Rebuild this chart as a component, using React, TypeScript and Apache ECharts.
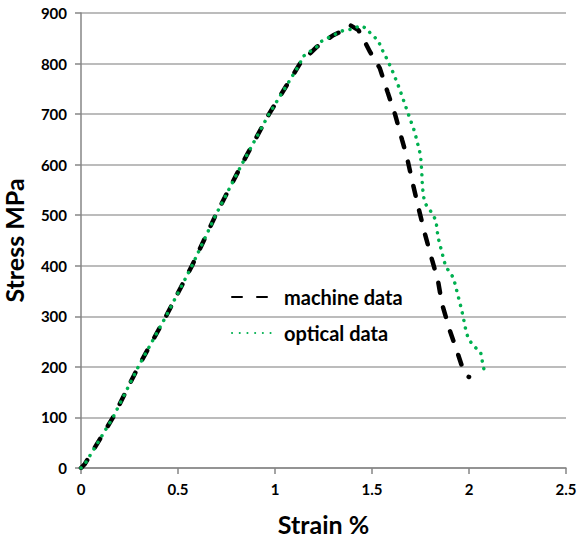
import React, { useEffect, useRef } from "react";
import * as echarts from "echarts";

const machineStrain = [0, 0.02, 0.165, 0.295, 0.438, 0.572, 0.694, 0.828, 0.969, 1.129, 1.215, 1.3, 1.35, 1.387, 1.43, 1.45, 1.49, 1.54, 1.58, 1.62, 1.655, 1.68, 1.71, 1.74, 1.77, 1.81, 1.84, 1.86, 1.9, 1.94, 1.97, 1.98, 2.0];
const machineStress = [0, 8, 100, 200, 300, 400, 500, 600, 700, 800, 833, 856, 865, 876, 866, 853, 823, 791, 744, 698, 649, 615, 563, 514, 467, 411, 371, 326, 273, 229, 194, 185, 180];

const opticalStrain = [0, 0.02, 0.165, 0.295, 0.438, 0.572, 0.694, 0.828, 0.969, 1.129, 1.14, 1.215, 1.23, 1.3, 1.35, 1.4, 1.438, 1.47, 1.5, 1.53, 1.56, 1.58, 1.61, 1.64, 1.68, 1.72, 1.75, 1.756, 1.76, 1.77, 1.79, 1.81, 1.83, 1.84, 1.86, 1.88, 1.9, 1.92, 1.94, 1.96, 1.97, 1.98, 1.995, 2.02, 2.06, 2.07, 2.08];
const opticalStress = [0, 8, 100, 200, 300, 400, 500, 600, 700, 800, 813, 833, 842, 856, 865, 868, 875, 870, 856, 847, 821, 807, 781, 752, 708, 665, 619, 589, 556, 526, 514, 504, 489, 457, 427, 398, 388, 376, 346, 316, 299, 279, 257, 243, 229, 208, 190];

const seriesNames = ["machine data", "optical data"];
const xTicks = { min: 0, max: 2.5, interval: 0.5 };
const yTicks = { min: 0, max: 900, interval: 100 };

const zip = (xs: number[], ys: number[]) => xs.map((x, i) => [x, ys[i]]);

const FONT = "Lato";

export default function App() {
  const ref = useRef<HTMLDivElement>(null);
  useEffect(() => {
    if (!ref.current) return;
    const chart = echarts.init(ref.current, null, { renderer: "svg" });
    const labelStyle = { color: "#000", fontFamily: FONT, fontWeight: "bold" as const, fontSize: 15 };
    chart.setOption({
      animation: false,
      backgroundColor: "#fff",
      grid: { left: 81, right: 13, top: 13, bottom: 72, containLabel: false, outerBoundsMode: "none" },
      legend: {
        orient: "vertical",
        left: 231,
        top: 286,
        padding: 0,
        itemWidth: 41,
        itemHeight: 14,
        itemGap: 14,
        itemStyle: { opacity: 0 },
        textStyle: { ...labelStyle, fontSize: 20, lineHeight: 22, padding: [0, 0, 0, 6] },
        data: seriesNames,
      },
      xAxis: {
        type: "value",
        min: xTicks.min,
        max: xTicks.max,
        interval: xTicks.interval,
        name: "Strain %",
        nameLocation: "middle",
        nameGap: 43,
        nameTextStyle: { ...labelStyle, fontSize: 25 },
        axisLine: { show: true, lineStyle: { color: "#868686", width: 1.5 } },
        axisTick: { show: true, length: 6, lineStyle: { color: "#868686", width: 1.5 } },
        axisLabel: { ...labelStyle, margin: 13, formatter: (v: number) => String(v) },
        splitLine: { show: false },
      },
      yAxis: {
        type: "value",
        min: yTicks.min,
        max: yTicks.max,
        interval: yTicks.interval,
        name: "Stress MPa",
        nameLocation: "middle",
        nameGap: 55,
        nameTextStyle: { ...labelStyle, fontSize: 25 },
        axisLine: { show: true, lineStyle: { color: "#868686", width: 1.5 } },
        axisTick: { show: true, length: 6, lineStyle: { color: "#868686", width: 1.5 } },
        axisLabel: { ...labelStyle, margin: 14 },
        splitLine: { show: true, lineStyle: { color: "#a6a6a6", width: 1.5 } },
      },
      series: [
        {
          name: seriesNames[0],
          type: "line",
          data: zip(machineStrain, machineStress),
          showSymbol: false,
          symbol: "none",
          z: 2,
          lineStyle: { color: "#000", width: 4.5, type: [10, 15], cap: "round" },
          itemStyle: { color: "#000" },
        },
        {
          name: seriesNames[1],
          type: "line",
          data: zip(opticalStrain, opticalStress),
          showSymbol: false,
          symbol: "none",
          z: 3,
          lineStyle: { color: "#00b050", width: 3.5, type: [0.1, 7.6], cap: "round" },
          itemStyle: { color: "#00b050" },
        },
      ],
    });
    return () => chart.dispose();
  }, []);
  return <div ref={ref} style={{ position: "fixed", left: 0, top: 0, width: 579, height: 540 }} />;
}
